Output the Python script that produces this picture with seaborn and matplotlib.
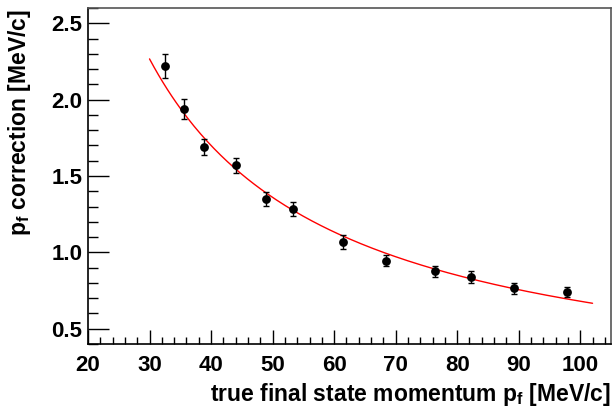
import matplotlib

matplotlib.use("Agg")
import matplotlib.pyplot as plt
import numpy as np
import pandas as pd
import seaborn as sns
from matplotlib.ticker import MultipleLocator

p_true = [32.5, 35.6, 38.9, 44.1, 48.9, 53.3, 61.4, 68.4, 76.4, 82.2, 89.2, 97.9]
p_corr = [2.22, 1.94, 1.69, 1.57, 1.35, 1.285, 1.07, 0.945, 0.875, 0.84, 0.765, 0.74]
p_err = [0.08, 0.065, 0.055, 0.05, 0.045, 0.045, 0.045, 0.035, 0.035, 0.04, 0.035, 0.035]

# power-law fit drawn in red: corr = amp * p^expo over the fit range
fit_amp = 68.0
fit_expo = -1.0
fit_range = (30.0, 102.0)

sns.set_style("ticks")
plt.rcParams["font.family"] = ["Liberation Sans", "DejaVu Sans"]
plt.rcParams["font.weight"] = "bold"
plt.rcParams["mathtext.fontset"] = "custom"
plt.rcParams["mathtext.rm"] = "Liberation Sans:bold"
plt.rcParams["mathtext.bf"] = "Liberation Sans:bold"
plt.rcParams["mathtext.default"] = "bf"
for key in ["text.color", "axes.labelcolor", "xtick.color", "ytick.color",
            "axes.edgecolor"]:
    plt.rcParams[key] = "black"

df = pd.DataFrame({"p": p_true, "corr": p_corr, "err": p_err})
fx = np.linspace(fit_range[0], fit_range[1], 200)
fit_df = pd.DataFrame({"p": fx, "corr": fit_amp * fx ** fit_expo})

fig = plt.figure(figsize=(6.13, 4.18), dpi=100)
ax = fig.add_axes([88 / 613, 1 - 344 / 418, 523 / 613, 336 / 418])

sns.lineplot(data=fit_df, x="p", y="corr", ax=ax, color="red", lw=1.0)
ax.errorbar(df["p"], df["corr"], yerr=df["err"], fmt="none", ecolor="black",
            elinewidth=1.0, capsize=2, capthick=1.0)
sns.scatterplot(data=df, x="p", y="corr", ax=ax, color="black", s=40,
                edgecolor="black", linewidth=0, zorder=5)

ax.set_xlim(20, 105)
ax.set_ylim(0.4, 2.6)
ax.xaxis.set_major_locator(MultipleLocator(10))
ax.xaxis.set_minor_locator(MultipleLocator(2))
ax.yaxis.set_major_locator(MultipleLocator(0.5))
ax.yaxis.set_minor_locator(MultipleLocator(0.1))
ax.yaxis.set_major_formatter(matplotlib.ticker.FormatStrFormatter("%.1f"))
ax.tick_params(axis="x", which="major", direction="in", length=10, width=1,
               pad=8, labelsize=16)
ax.tick_params(axis="x", which="minor", direction="in", length=5, width=1)
ax.tick_params(axis="y", which="major", direction="in", length=15, width=1,
               pad=4, labelsize=16)
ax.tick_params(axis="y", which="minor", direction="in", length=7, width=1)
for side in ["top", "right", "left", "bottom"]:
    ax.spines[side].set_visible(True)
    ax.spines[side].set_linewidth(1.2)
ax.spines["top"].set_color("#555555")
ax.spines["right"].set_color("#555555")
ax.set_xlabel("")
ax.set_ylabel("")

fig.text(20 / 613, 1 - 9 / 418, r"p$_{\mathbf{f}}$ correction [MeV/c]",
         rotation=90, ha="center", va="top", fontsize=16.5, fontweight="bold")
fig.text(611 / 613, 1 - 381 / 418, r"true final state momentum p$_{\mathbf{f}}$ [MeV/c]",
         ha="right", va="top", fontsize=16.5, fontweight="bold")

fig.savefig("out.png", dpi=100)
plt.close(fig)
